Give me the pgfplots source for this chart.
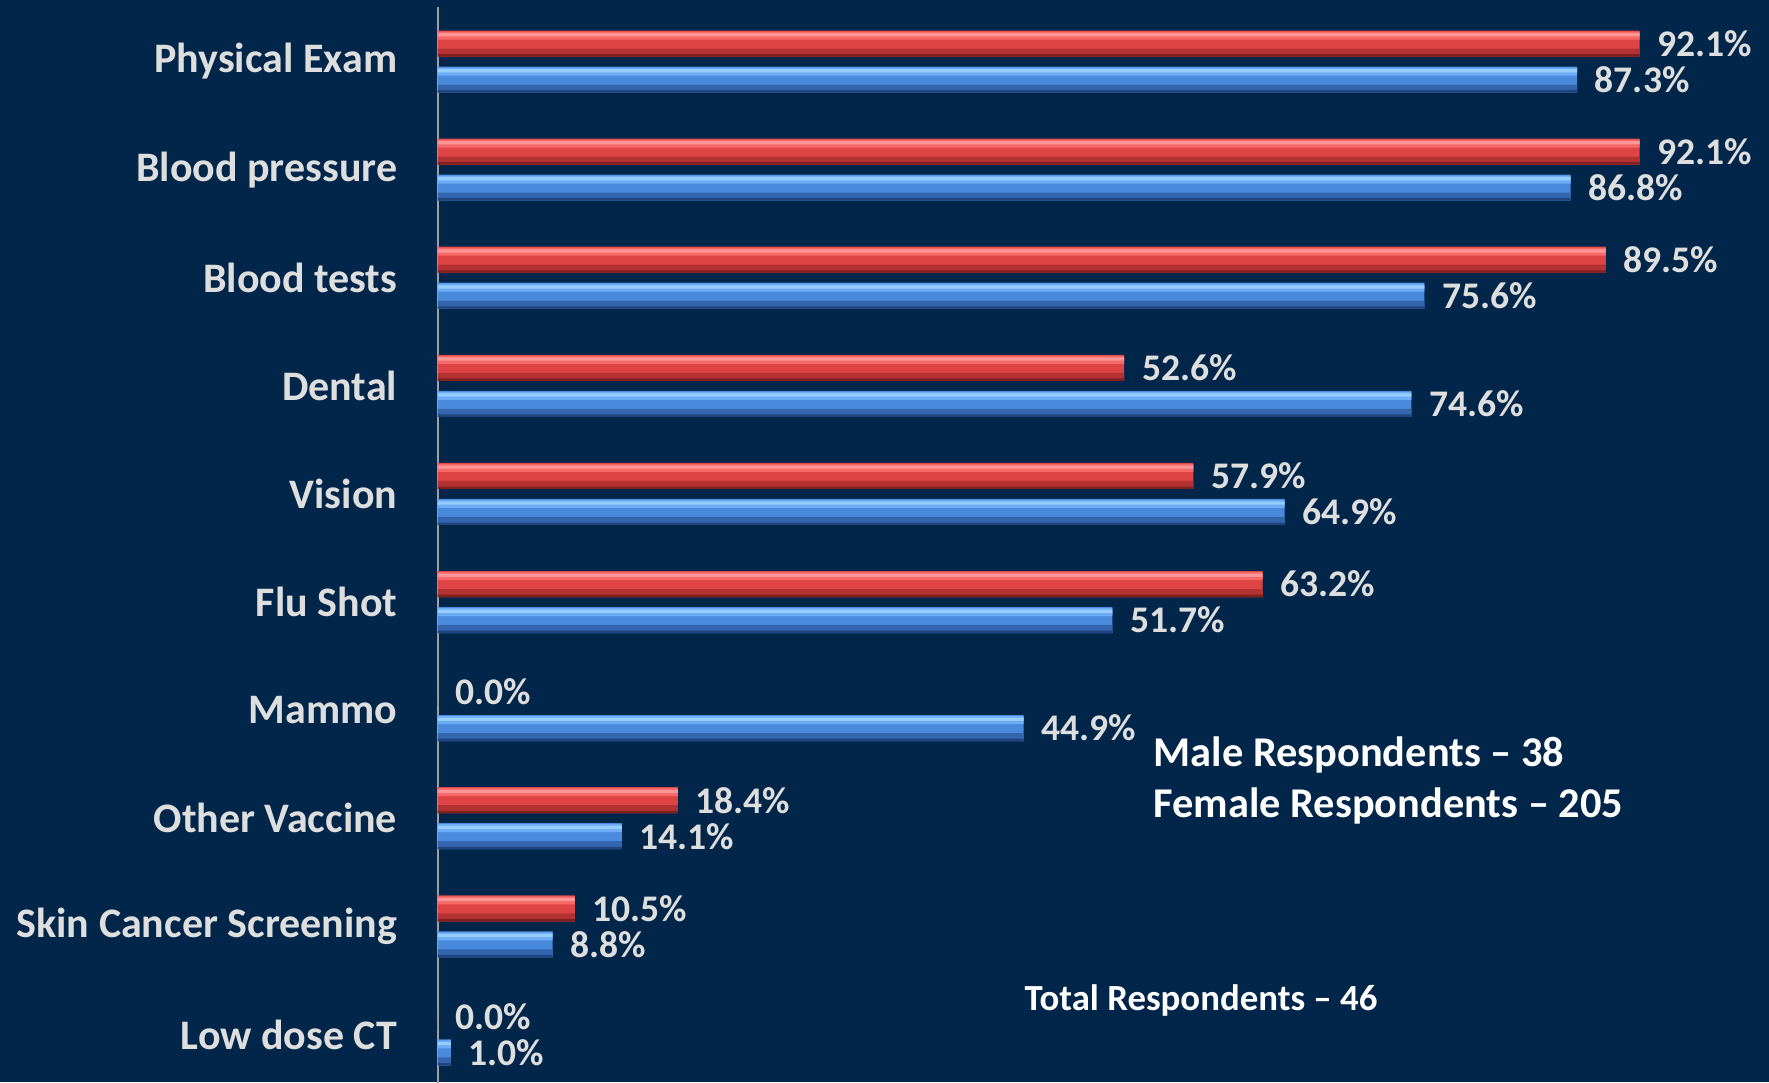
\documentclass[border=0pt]{standalone}
\usepackage{fontspec}
\setmainfont{Carlito}
\usepackage{pgfplots}
\usepackage{pgfplotstable}
\pgfplotsset{compat=1.18}
\definecolor{bg}{RGB}{2,38,73}
\definecolor{lbl}{RGB}{222,222,222}
\definecolor{rhi}{RGB}{255,150,150}
\definecolor{rtop}{RGB}{245,105,105}
\definecolor{rmid}{RGB}{222,68,68}
\definecolor{rbot}{RGB}{180,50,50}
\definecolor{redge}{RGB}{130,32,32}
\definecolor{bhi}{RGB}{150,205,255}
\definecolor{btop}{RGB}{110,172,245}
\definecolor{bmid}{RGB}{74,138,220}
\definecolor{bbot}{RGB}{52,102,176}
\definecolor{bedge}{RGB}{32,68,125}

% pos: 9 = top category
\pgfplotstableread{
pos male female
9 92.1 87.3
8 92.1 86.8
7 89.5 75.6
6 52.6 74.6
5 57.9 64.9
4 63.2 51.7
3 0.0 44.9
2 18.4 14.1
1 10.5 8.8
0 0.0 1.0
}\data

\begin{document}
\begin{tikzpicture}
\fill[bg] (-109.45pt,1.6pt) rectangle (332.8pt,272.125pt);
\begin{axis}[
    at={(0,0)}, anchor=south west,
    scale only axis,
    width=326.25pt, height=270.25pt,
    xmin=0, xmax=100, ymin=-0.5, ymax=9.5,
    xbar,
    axis x line=none,
    axis y line*=left,
    y axis line style={draw=gray!75, line width=0.5pt, -},
    ytick={0,...,9},
    yticklabels={Low dose CT, Skin Cancer Screening, Other Vaccine, Mammo, Flu Shot,
                 Vision, Dental, Blood tests, Blood pressure, Physical Exam},
    ytick style={draw=none},
    yticklabel style={inner sep=0pt, xshift=-5.7pt, font=\fontsize{10.5}{12}\selectfont\bfseries, text=lbl},
    clip=false,
    every node near coord/.append style={anchor=west, inner sep=0pt, xshift=4.25pt,
        font=\fontsize{9.4}{11}\selectfont\bfseries, text=lbl},
    vals/.style={nodes near coords={\pgfmathprintnumber[fixed,fixed zerofill,precision=1,assume math mode=true]{\pgfplotspointmeta}\%}},
]
% male (red): base bar with labels, then shading bands
\addplot[draw=none, fill=rmid, bar width=6.5pt, bar shift=4.5pt, vals] table[x=male, y=pos] {\data};
\addplot[draw=none, fill=rtop, bar width=2.0pt, bar shift=6.5pt] table[x=male, y=pos] {\data};
\addplot[draw=none, fill=rhi, bar width=0.8pt, bar shift=6.7pt] table[x=male, y=pos] {\data};
\addplot[draw=none, fill=rbot, bar width=2.0pt, bar shift=2.25pt] table[x=male, y=pos] {\data};
\addplot[draw=none, fill=redge, bar width=0.6pt, bar shift=1.55pt] table[x=male, y=pos] {\data};
% female (blue)
\addplot[draw=none, fill=bmid, bar width=6.5pt, bar shift=-4.5pt, vals] table[x=female, y=pos] {\data};
\addplot[draw=none, fill=btop, bar width=2.0pt, bar shift=-2.5pt] table[x=female, y=pos] {\data};
\addplot[draw=none, fill=bhi, bar width=0.8pt, bar shift=-2.3pt] table[x=female, y=pos] {\data};
\addplot[draw=none, fill=bbot, bar width=2.0pt, bar shift=-6.75pt] table[x=female, y=pos] {\data};
\addplot[draw=none, fill=bedge, bar width=0.6pt, bar shift=-7.45pt] table[x=female, y=pos] {\data};
\node[anchor=west, inner sep=0pt, text=white, font=\fontsize{10.6}{12}\selectfont\bfseries]
    at (axis cs:54.8,2.585) {Male Respondents -- 38};
\node[anchor=west, inner sep=0pt, text=white, font=\fontsize{10.6}{12}\selectfont\bfseries]
    at (axis cs:54.8,2.113) {Female Respondents -- 205};
\node[anchor=west, inner sep=0pt, text=white, font=\fontsize{9.2}{11}\selectfont\bfseries]
    at (axis cs:44.9,0.318) {Total Respondents -- 46};
\end{axis}
\pgfresetboundingbox
\path[use as bounding box] (-109.45pt,1.6pt) rectangle (332.8pt,272.125pt);
\end{tikzpicture}
\end{document}
